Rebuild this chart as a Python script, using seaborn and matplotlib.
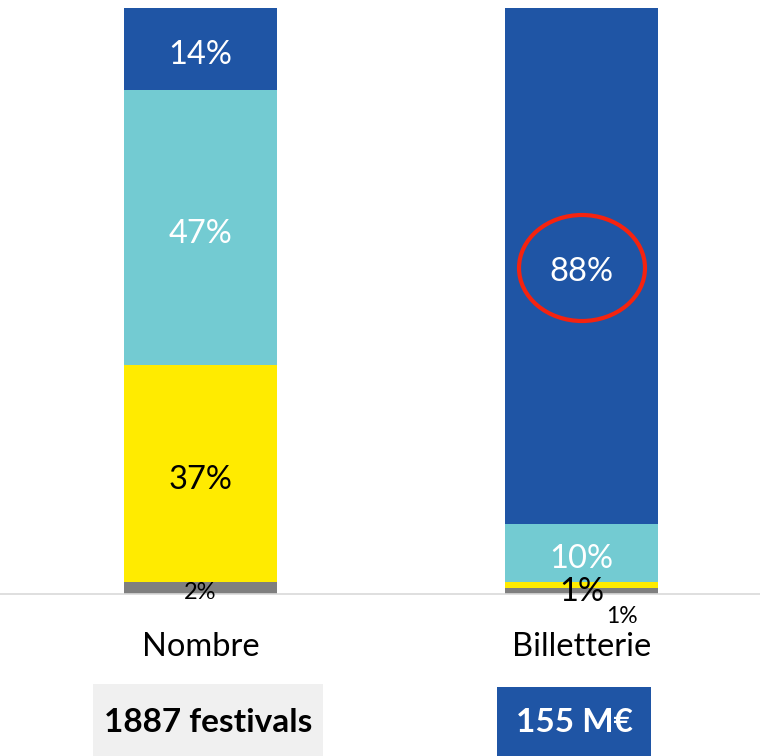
import matplotlib
matplotlib.use("Agg")
import matplotlib.pyplot as plt
import matplotlib.patches as mpatches
import seaborn as sns
import pandas as pd
import numpy as np

categories = ["Nombre", "Billetterie"]
segments = ["gris", "jaune", "turquoise", "bleu"]
values_nombre = [2, 37, 47, 14]
values_billetterie = [1, 1, 10, 88]
colors = ["#7F7F7F", "#FFEB00", "#73CBD2", "#1F55A5"]
label_colors = ["black", "black", "white", "white"]
totals = ["1887 festivals", "155 M€"]

sns.set_theme(style="white")
plt.rcParams["font.family"] = ["Lato", "DejaVu Sans"]

fig = plt.figure(figsize=(7.6, 7.56), dpi=100)
ax = fig.add_axes([0, 162/756, 1, 586/756])

vals = np.array([values_nombre, values_billetterie])
cum = vals.cumsum(axis=1)
for i in range(len(segments) - 1, -1, -1):
    df = pd.DataFrame({"cat": categories, "val": cum[:, i]})
    sns.barplot(data=df, x="cat", y="val", color=colors[i], width=0.4,
                saturation=1, ax=ax, linewidth=0)

ax.set_ylim(0, 100)
ax.set_xlim(-0.526, 1.4685)
ax.set_ylabel("")
ax.set_xlabel("")
ax.set_yticks([])
for s in ["top", "left", "right"]:
    ax.spines[s].set_visible(False)
ax.spines["bottom"].set_color("#D9D9D9")
ax.spines["bottom"].set_linewidth(1.2)
ax.tick_params(axis="x", length=0, pad=27, labelsize=23.5, labelcolor="black")

# labels
big = 23.5
for ci in range(2):
    v = vals[ci]
    c = cum[ci]
    for si in range(4):
        mid = c[si] - v[si] / 2
        if ci == 0 and si == 0:
            ax.text(ci, 0.3, f"{v[si]}%", ha="center", va="center", fontsize=17, color="black")
        elif ci == 1 and si == 0:
            ax.text(ci + 0.105, -3.9, f"{v[si]}%", ha="center", va="center", fontsize=16.5, color="black")
        elif ci == 1 and si == 1:
            ax.text(ci, 0.4, f"{v[si]}%", ha="center", va="center", fontsize=big, color="black")
        else:
            ax.text(ci, mid - 1.1, f"{v[si]}%", ha="center", va="center", fontsize=big,
                    color=label_colors[si])

# red ellipse around 88%
ell = mpatches.Ellipse((582/760, 1 - 268/756), 126/760, 106/756, transform=fig.transFigure,
                       fill=False, edgecolor="#F5230F", linewidth=3)
fig.add_artist(ell)

# total boxes
fig.add_artist(mpatches.Rectangle((93/760, 0), 230/760, 72/756, transform=fig.transFigure,
                                  facecolor="#F0F0F0", edgecolor="none"))
fig.add_artist(mpatches.Rectangle((497/760, 0), 154/760, 69/756, transform=fig.transFigure,
                                  facecolor="#1F55A5", edgecolor="none"))
fig.text(208/760, 1 - 722/756, totals[0], ha="center", va="center", fontsize=24,
         fontweight="bold", color="black")
fig.text(574/760, 1 - 722/756, totals[1], ha="center", va="center", fontsize=24,
         fontweight="bold", color="white")

fig.savefig("out.png", dpi=100)
